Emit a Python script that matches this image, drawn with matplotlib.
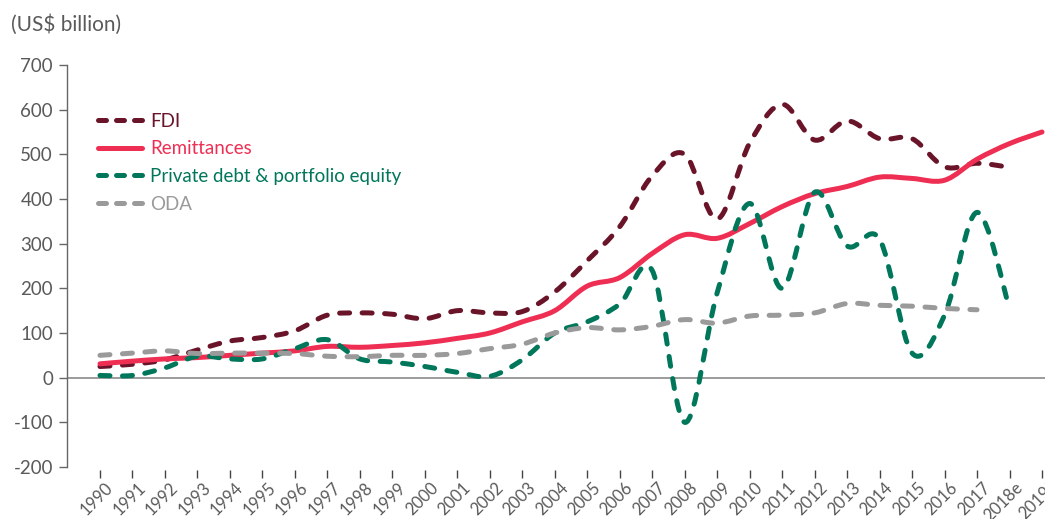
import numpy as np
import matplotlib
matplotlib.use("Agg")
import matplotlib.pyplot as plt
import matplotlib.transforms as mtransforms
from matplotlib.path import Path
from matplotlib.patches import PathPatch
from matplotlib.lines import Line2D

# ---------------- data ----------------
years = list(range(1990, 2020))
year_labels = [str(y) for y in range(1990, 2018)] + ["2018e", "2019f"]

fdi = [25, 30, 40, 62, 82, 90, 105, 140, 145, 142, 132, 150, 145, 148, 192, 262,
       338, 452, 500, 355, 525, 612, 532, 575, 535, 535, 472, 480, 471]
remittances = [31, 37, 42, 45, 50, 55, 60, 70, 68, 72, 78, 88, 100, 125, 150, 205,
               224, 278, 320, 312, 345, 383, 412, 428, 449, 446, 442, 489, 524, 550]
private = [5, 5, 22, 48, 42, 42, 65, 85, 42, 35, 25, 12, 3, 40, 100, 125,
           165, 240, -100, 190, 390, 200, 415, 295, 310, 55, 140, 370, 155]
oda = [50, 55, 60, 54, 55, 55, 54, 48, 47, 50, 50, 54, 65, 75, 100, 112,
       107, 115, 130, 122, 138, 140, 145, 166, 162, 160, 155, 152]

DASH = (0, (2.0, 2.5))
LEG_DASH = (0, (1.6, 2.0))
series = [
    ("FDI", fdi, "#6a1429", DASH),
    ("Remittances", remittances, "#ee2f53", "solid"),
    ("Private debt & portfolio equity", private, "#00775a", DASH),
    ("ODA", oda, "#9a9a9a", DASH),
]

yticks = list(range(-200, 701, 100))

# ---------------- style ----------------
plt.rcParams["font.family"] = ["Lato", "DejaVu Sans"]
TXT = "#5a5a5a"

W, H = 1045, 519
fig = plt.figure(figsize=(W / 100, H / 100), dpi=100)
ax = fig.add_axes([67 / W, 52 / H, (W - 67) / W, 402 / H])

for s in ["top", "right", "bottom"]:
    ax.spines[s].set_visible(False)
ax.spines["bottom"].set_position(("outward", 2))
ax.spines["left"].set_color("#666666")
ax.spines["left"].set_linewidth(1.0)


def smooth_path(xs, ys):
    """Catmull-Rom spline through the data points, as cubic Bezier segments."""
    pts = np.column_stack([xs, ys]).astype(float)
    n = len(pts)
    verts = [pts[0]]
    codes = [Path.MOVETO]
    for i in range(n - 1):
        p0 = pts[i - 1] if i > 0 else pts[i]
        p1 = pts[i]
        p2 = pts[i + 1]
        p3 = pts[i + 2] if i + 2 < n else pts[i + 1]
        c1 = p1 + (p2 - p0) / 6.0
        c2 = p2 - (p3 - p1) / 6.0
        verts += [c1, c2, p2]
        codes += [Path.CURVE4] * 3
    return Path(np.array(verts), codes)


LW = 3.6
handles = []
for name, vals, col, ls in series:
    xs = years[:len(vals)]
    patch = PathPatch(smooth_path(xs, vals), fill=False, edgecolor=col, lw=LW,
                      linestyle=ls, capstyle="round", joinstyle="round", zorder=3)
    ax.add_patch(patch)
    handles.append(Line2D([], [], color=col, lw=LW,
                          linestyle=(LEG_DASH if ls != "solid" else ls),
                          dash_capstyle="round", solid_capstyle="round"))

ax.axhline(0, color="#8a8a8a", lw=1.2, zorder=2)

ax.set_xlim(1990 - 33 / 32.5, 2019 + 3 / 32.5)
ax.set_ylim(-200, 700)

ax.tick_params(axis="y", length=6, width=1.0, color="#666666", labelsize=13.5,
               labelcolor=TXT, pad=4)
ax.tick_params(axis="x", length=6, width=1.0, color="#444444", labelsize=12,
               labelcolor=TXT, pad=1)

ax.set_yticks(yticks)
ax.set_yticklabels([str(v) for v in yticks])
ax.set_xticks(years)
ax.set_xticklabels(year_labels, rotation=45, ha="right", rotation_mode="anchor")
shift = mtransforms.ScaledTranslation(5 / 100, 0, fig.dpi_scale_trans)
for lab in ax.get_xticklabels():
    lab.set_transform(lab.get_transform() + shift)

fig.text(11 / W, 1 - 25 / H, "(US$ billion)", fontsize=15, color=TXT,
         ha="left", va="center")

leg = ax.legend(handles, [s[0] for s in series], loc="upper left",
                bbox_to_anchor=(98 / W, 1 - 113 / H), bbox_transform=fig.transFigure,
                frameon=False, fontsize=13.5, handlelength=2.35, handletextpad=0.43,
                labelspacing=0.56, borderpad=0, borderaxespad=0)
for txt, s in zip(leg.get_texts(), series):
    txt.set_color(s[2])

fig.savefig("out.png", dpi=100)
